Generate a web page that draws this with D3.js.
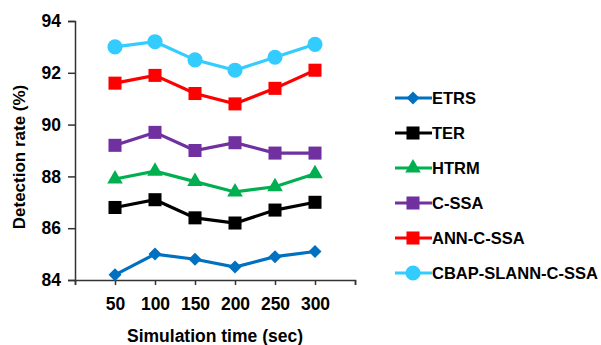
<!DOCTYPE html>
<html lang="en">
<head>
    <meta charset="UTF-8">
    <title>Detection rate</title>
    <script src="https://d3js.org/d3.v7.min.js"></script>
    <style>
        body { margin: 0; background: #fff; }
        text { font-family: "Liberation Sans", Arial, sans-serif; font-weight: bold; fill: #000; }
    </style>
</head>
<body>
    <script>
        var times = [50, 100, 150, 200, 250, 300];
        var xTicks = [0, 50, 100, 150, 200, 250, 300, 350];
        var yTicks = [84, 86, 88, 90, 92, 94];

        var etrs = [84.2, 85.0, 84.8, 84.5, 84.9, 85.1];
        var ter = [86.8, 87.1, 86.4, 86.2, 86.7, 87.0];
        var htrm = [87.9, 88.2, 87.8, 87.4, 87.6, 88.1];
        var cssa = [89.2, 89.7, 89.0, 89.3, 88.9, 88.9];
        var annCssa = [91.6, 91.9, 91.2, 90.8, 91.4, 92.1];
        var cbap = [93.0, 93.2, 92.5, 92.1, 92.6, 93.1];

        var series = [
            { name: "ETRS", values: etrs, color: "#0070C0", shape: "diamond" },
            { name: "TER", values: ter, color: "#000000", shape: "square" },
            { name: "HTRM", values: htrm, color: "#00B050", shape: "triangle" },
            { name: "C-SSA", values: cssa, color: "#7030A0", shape: "square" },
            { name: "ANN-C-SSA", values: annCssa, color: "#FF0000", shape: "square" },
            { name: "CBAP-SLANN-C-SSA", values: cbap, color: "#33CCFF", shape: "circle" }
        ];

        var width = 601, height = 345;

        var svg = d3.select("body").append("svg")
            .attr("width", width)
            .attr("height", height);

        var x = d3.scaleLinear().domain([0, 350]).range([75, 355]);
        var y = d3.scaleLinear().domain([84, 94]).range([280, 21]);

        // axes
        var yAxis = d3.axisLeft(y).tickValues(yTicks).tickSize(7).tickPadding(7).tickFormat(d3.format("d"));
        var gy = svg.append("g").attr("transform", "translate(75,0)").call(yAxis);
        var xAxis = d3.axisBottom(x).tickValues(xTicks).tickSize(5).tickPadding(13)
            .tickFormat(function (d) { return (d > 0 && d < 350) ? d : ""; });
        var gx = svg.append("g").attr("transform", "translate(0,280)").call(xAxis);

        [gx, gy].forEach(function (g) {
            g.select(".domain").attr("stroke", "#333").attr("stroke-width", 1.5);
            g.selectAll(".tick line").attr("stroke", "#333").attr("stroke-width", 1.5);
            g.selectAll("text").style("font-size", "17.5px").style("font-family", "Liberation Sans, Arial, sans-serif")
                .style("font-weight", "bold").attr("fill", "#000");
        });

        svg.append("text")
            .attr("x", 215).attr("y", 342)
            .attr("text-anchor", "middle")
            .style("font-size", "17.5px")
            .text("Simulation time (sec)");

        svg.append("text")
            .attr("transform", "translate(25,157) rotate(-90)")
            .attr("text-anchor", "middle")
            .style("font-size", "17px")
            .text("Detection rate (%)");

        function diamond(size) {
            return function () {
                var r = size / 2;
                return "M0," + (-r) + "L" + r + ",0L0," + r + "L" + (-r) + ",0Z";
            };
        }

        var shapes = {
            diamond: diamond(13),
            square: d3.symbol().type(d3.symbolSquare).size(170),
            triangle: d3.symbol().type(d3.symbolTriangle).size(105),
            circle: d3.symbol().type(d3.symbolCircle).size(180)
        };

        var line = d3.line()
            .x(function (d, i) { return x(times[i]); })
            .y(function (d) { return y(d); });

        series.forEach(function (s) {
            var g = svg.append("g");
            g.append("path")
                .attr("d", line(s.values))
                .attr("fill", "none")
                .attr("stroke", s.color)
                .attr("stroke-width", 3.2);
            g.selectAll("path.mark")
                .data(s.values)
                .enter().append("path")
                .attr("class", "mark")
                .attr("d", shapes[s.shape])
                .attr("transform", function (d, i) { return "translate(" + x(times[i]) + "," + y(d) + ")"; })
                .attr("fill", s.color);
        });

        // legend
        var legend = svg.append("g");
        series.forEach(function (s, i) {
            var ly = 98 + i * 35;
            legend.append("line")
                .attr("x1", 395).attr("x2", 432)
                .attr("y1", ly).attr("y2", ly)
                .attr("stroke", s.color).attr("stroke-width", 3.2);
            legend.append("path")
                .attr("d", shapes[s.shape])
                .attr("transform", "translate(413," + ly + ")")
                .attr("fill", s.color);
            legend.append("text")
                .attr("x", 432).attr("y", ly + 6)
                .style("font-size", "16.5px")
                .text(s.name);
        });
    </script>
</body>
</html>
